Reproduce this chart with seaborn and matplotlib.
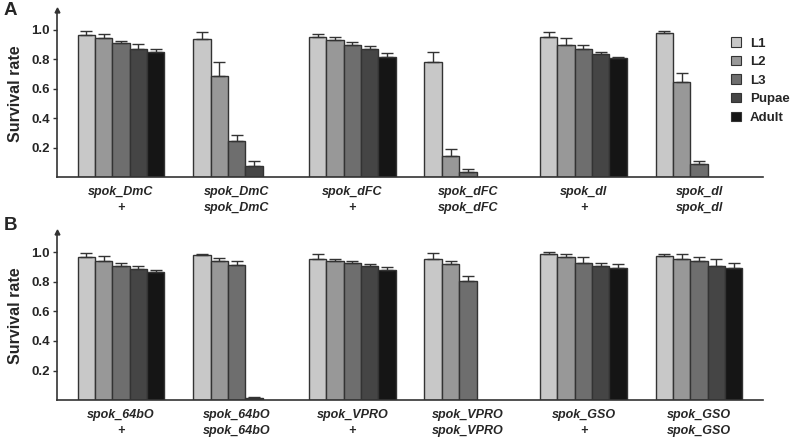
import numpy as np
import pandas as pd
import seaborn as sns
import matplotlib.pyplot as plt

stages = ["L1", "L2", "L3", "Pupae", "Adult"]
colors = ["#c8c8c8", "#989898", "#6e6e6e", "#454545", "#151515"]

# panel A
labels_a = ["spok_DmC\n+", "spok_DmC\nspok_DmC", "spok_dFC\n+",
            "spok_dFC\nspok_dFC", "spok_dl\n+", "spok_dl\nspok_dl"]
mean_a = [
    [0.965, 0.942, 0.911, 0.868, 0.847],
    [0.940, 0.689, 0.246, 0.079, np.nan],
    [0.949, 0.929, 0.899, 0.868, 0.818],
    [0.784, 0.147, 0.038, np.nan, np.nan],
    [0.949, 0.897, 0.868, 0.834, 0.807],
    [0.976, 0.649, 0.090, np.nan, np.nan],
]
err_a = [
    [0.029, 0.032, 0.011, 0.038, 0.021],
    [0.048, 0.091, 0.039, 0.029, np.nan],
    [0.025, 0.025, 0.016, 0.025, 0.027],
    [0.063, 0.043, 0.018, np.nan, np.nan],
    [0.034, 0.045, 0.031, 0.018, 0.011],
    [0.014, 0.061, 0.023, np.nan, np.nan],
]

# panel B
labels_b = ["spok_64bO\n+", "spok_64bO\nspok_64bO", "spok_VPRO\n+",
            "spok_VPRO\nspok_VPRO", "spok_GSO\n+", "spok_GSO\nspok_GSO"]
mean_b = [
    [0.966, 0.939, 0.908, 0.885, 0.863],
    [0.977, 0.939, 0.912, 0.014, np.nan],
    [0.955, 0.941, 0.923, 0.905, 0.881],
    [0.955, 0.919, 0.804, np.nan, np.nan],
    [0.984, 0.964, 0.928, 0.905, 0.892],
    [0.971, 0.955, 0.941, 0.905, 0.890],
]
err_b = [
    [0.025, 0.036, 0.020, 0.023, 0.013],
    [0.012, 0.018, 0.027, 0.006, np.nan],
    [0.031, 0.014, 0.016, 0.014, 0.015],
    [0.038, 0.022, 0.032, np.nan, np.nan],
    [0.014, 0.020, 0.038, 0.018, 0.025],
    [0.015, 0.029, 0.025, 0.045, 0.033],
]

sns.set_style("white")
plt.rcParams["font.family"] = ["Liberation Sans", "DejaVu Sans"]

fig = plt.figure(figsize=(7.92, 4.37), dpi=100)
W, H = 792, 437
ax_a = fig.add_axes([56.7 / W, 1 - 177.3 / H, (762.7 - 56.7) / W, (177.3 - 10) / H])
ax_b = fig.add_axes([56.7 / W, 1 - 400.3 / H, (762.7 - 56.7) / W, (400.3 - 232) / H])

edge = "#333333"


def draw_panel(ax, labels, means, errs):
    rows = []
    for g, lab in enumerate(labels):
        for s, st in enumerate(stages):
            rows.append({"group": lab, "stage": st, "value": means[g][s]})
    df = pd.DataFrame(rows)
    sns.barplot(data=df, x="group", y="value", hue="stage", order=labels,
                hue_order=stages, palette=colors, width=0.75, errorbar=None,
                edgecolor=edge, linewidth=1.0, ax=ax, legend=False)
    # upper error bars, placed from the drawn bars
    bar_conts = list(ax.containers)
    for s, cont in enumerate(bar_conts):
        for bar in cont:
            xc = bar.get_x() + bar.get_width() / 2
            g = int(round(xc))
            m = bar.get_height()
            e = errs[g][s]
            if np.isnan(m) or np.isnan(e):
                continue
            ax.errorbar(xc, m, yerr=[[0], [e]], fmt="none", ecolor=edge,
                        elinewidth=1.0, capsize=4, capthick=1.0, zorder=1)
    ax.set_xlim(-0.556, 5.55)
    ax.set_ylim(0, 1.135)
    ax.set_yticks([0.2, 0.4, 0.6, 0.8, 1.0])
    ax.set_yticklabels(["0.2", "0.4", "0.6", "0.8", "1.0"], fontsize=9.5, fontweight="bold")
    ax.set_xticks(range(len(labels)))
    ax.set_xticklabels(labels, fontsize=9, fontweight="bold", fontstyle="italic",
                       linespacing=1.5)
    ax.tick_params(axis="x", length=0, pad=6)
    ax.tick_params(axis="y", length=3, width=1.0, color=edge, direction="out", pad=2, left=True)
    ax.set_xlabel("")
    ax.set_ylabel("Survival rate", fontsize=11.5, fontweight="bold", labelpad=6)
    sns.despine(ax=ax)
    for sp in ["left", "bottom"]:
        ax.spines[sp].set_color(edge)
        ax.spines[sp].set_linewidth(1.2)
    ax.plot(0, 1, marker="^", color=edge, markersize=3.5, transform=ax.transAxes, clip_on=False)


draw_panel(ax_a, labels_a, mean_a, err_a)
draw_panel(ax_b, labels_b, mean_b, err_b)

fig.text(4 / W, 1 - 2 / H, "A", fontsize=13.5, fontweight="bold", va="top")
fig.text(4 / W, 1 - 217 / H, "B", fontsize=13.5, fontweight="bold", va="top")

handles = [plt.Rectangle((0, 0), 1, 1, facecolor=c, edgecolor=edge, linewidth=0.8) for c in colors]
fig.legend(handles, stages, loc="upper left", bbox_to_anchor=(726 / W, 1 - 32 / H),
           frameon=False, prop={"weight": "bold", "size": 9.5}, handlelength=0.7,
           handleheight=0.7, handletextpad=0.7, labelspacing=0.48, borderaxespad=0)

fig.savefig("out.png", dpi=100)
